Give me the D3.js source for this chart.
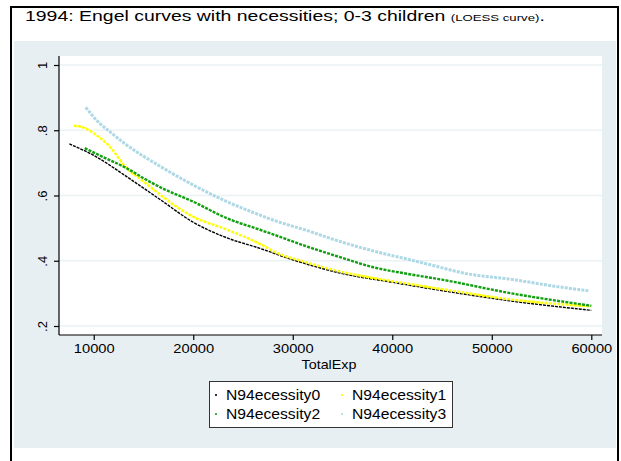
<!DOCTYPE html>
<html>
<head>
<meta charset="utf-8">
<script src="https://cdn.jsdelivr.net/npm/d3@7"></script>
<style>
  body { margin: 0; background: #fff; }
  text { font-family: "Liberation Sans", Arial, sans-serif; }
</style>
</head>
<body>
<div id="chart"></div>
<script>
// values (TotalExp vs budget share)
var exp0   = [7550, 10000, 13350, 16700, 20000, 23400, 26700, 29800, 34800, 39800, 45500, 52100, 60000];
var share0 = [.758, .723, .657, .587, .518, .470, .438, .405, .362, .335, .306, .276, .248];

var exp1   = [8000, 8800, 10000, 11600, 13300, 15000, 16700, 18300, 20000, 23400, 26700, 28000, 31400, 34750, 38100, 41500, 45000, 52000, 60000];
var share1 = [.814, .810, .791, .750, .684, .643, .602, .566, .535, .495, .452, .430, .395, .367, .347, .330, .313, .281, .260];

var exp2   = [9100, 11000, 13300, 15000, 16700, 20000, 23400, 26700, 28000, 31400, 34750, 38100, 41500, 45000, 52000, 60000];
var share2 = [.745, .717, .684, .653, .625, .581, .530, .495, .481, .444, .411, .380, .360, .342, .300, .262];

var exp3   = [9200, 10600, 11600, 13300, 16700, 20000, 23400, 26700, 28000, 31400, 34750, 38100, 41500, 43800, 47200, 52200, 56500, 59700];
var share3 = [.870, .821, .796, .755, .689, .632, .581, .540, .525, .493, .459, .430, .405, .388, .362, .342, .321, .308];

var seriesNames = ["N94ecessity0", "N94ecessity1", "N94ecessity2", "N94ecessity3"];
var colors = ["#000000", "#ffff00", "#10a010", "#add8e6"];
var widths = [1.4, 2.4, 2.4, 3];
var xTicks = [10000, 20000, 30000, 40000, 50000, 60000];
var yTicks = [.2, .4, .6, .8, 1];

var W = 621, H = 461;
var svg = d3.select("#chart").append("svg").attr("width", W).attr("height", H);

// outer frame + graph region
svg.append("rect").attr("x", 11).attr("y", 7).attr("width", 607).attr("height", 470)
  .attr("fill", "#fff").attr("stroke", "#000").attr("stroke-width", 2);
svg.append("rect").attr("x", 14).attr("y", 41).attr("width", 602).attr("height", 407)
  .attr("fill", "#e8eff2");

// the original text is stretched sideways, so squeeze it to the measured width
var title = svg.append("text").attr("x", 0).attr("y", 0).attr("font-size", "14px");
title.append("tspan").text("1994: Engel curves with necessities; 0-3 children ");
title.append("tspan").attr("font-size", "9.5px").text("(LOESS curve)");
title.append("tspan").text(".");
var tw = title.node().getBBox().width;
title.attr("transform", "translate(25,21) scale(" + (520 / tw) + ",1)");

var plot = {left: 59, right: 602, top: 56, bottom: 335};
svg.append("rect").attr("x", plot.left).attr("y", plot.top)
  .attr("width", plot.right - plot.left).attr("height", plot.bottom - plot.top)
  .attr("fill", "#fff");

var x = d3.scaleLinear().domain([6510, 61075]).range([plot.left, plot.right]);
var y = d3.scaleLinear().domain([0.2, 1]).range([326, 65]);

// grid
svg.append("g").selectAll("line").data(yTicks).enter().append("line")
  .attr("x1", plot.left).attr("x2", plot.right)
  .attr("y1", d => y(d)).attr("y2", d => y(d))
  .attr("stroke", "#eaf2f3").attr("stroke-width", 1.5);

// axes
var xAxis = svg.append("g").attr("transform", "translate(0," + plot.bottom + ")")
  .call(d3.axisBottom(x).tickValues(xTicks).tickFormat(d3.format("d")).tickSize(5).tickPadding(4));
xAxis.select(".domain").attr("d", "M" + plot.left + ",0H" + plot.right);
xAxis.selectAll("text").attr("font-size", "13px").attr("fill", "#000")
  .attr("font-family", "Liberation Sans, Arial, sans-serif")
  .attr("transform", "scale(1.13,1)");

var yAxis = svg.append("g").attr("transform", "translate(" + plot.left + ",0)")
  .call(d3.axisLeft(y).tickValues(yTicks).tickFormat(d => d == 1 ? "1" : d3.format(".1f")(d).replace(/^0/, "")).tickSize(5));
yAxis.select(".domain").attr("d", "M0," + plot.top + "V" + plot.bottom);
yAxis.selectAll("text")
  .attr("font-size", "13px").attr("fill", "#000")
  .attr("font-family", "Liberation Sans, Arial, sans-serif")
  .attr("text-anchor", "middle").attr("dy", null).attr("x", null)
  .attr("transform", "translate(-12,0) rotate(-90)");
svg.selectAll(".domain, .tick line").attr("stroke", "#000").attr("stroke-width", 1.2);

svg.append("text").attr("text-anchor", "middle")
  .attr("transform", "translate(329,369) scale(1.1,1)")
  .attr("font-size", "13px").text("TotalExp");

// curves drawn as dotted traces
var data = [[exp0, share0], [exp1, share1], [exp2, share2], [exp3, share3]];
var line = d3.line().x(d => x(d[0])).y(d => y(d[1])).curve(d3.curveMonotoneX);
data.forEach(function(s, i) {
  var pts = s[0].map((v, j) => [v, s[1][j]]);
  svg.append("path").datum(pts)
    .attr("d", line).attr("fill", "none")
    .attr("stroke", colors[i]).attr("stroke-width", widths[i])
    .attr("stroke-dasharray", i == 0 ? "3,1" : "3,1.2");
});

// legend
var lg = svg.append("g");
lg.append("rect").attr("x", 209.5).attr("y", 381.5).attr("width", 243).attr("height", 46)
  .attr("fill", "#fff").attr("stroke", "#333").attr("stroke-width", 1);
var pos = [[216, 400], [342, 400], [216, 419], [342, 419]];
seriesNames.forEach(function(n, i) {
  lg.append("circle").attr("cx", pos[i][0]).attr("cy", pos[i][1] - 5).attr("r", 1.1)
    .attr("fill", colors[i]);
  lg.append("text")
    .attr("transform", "translate(" + (pos[i][0] + 10) + "," + pos[i][1] + ") scale(1.12,1)")
    .attr("font-size", "14px").text(n);
});
</script>
</body>
</html>
